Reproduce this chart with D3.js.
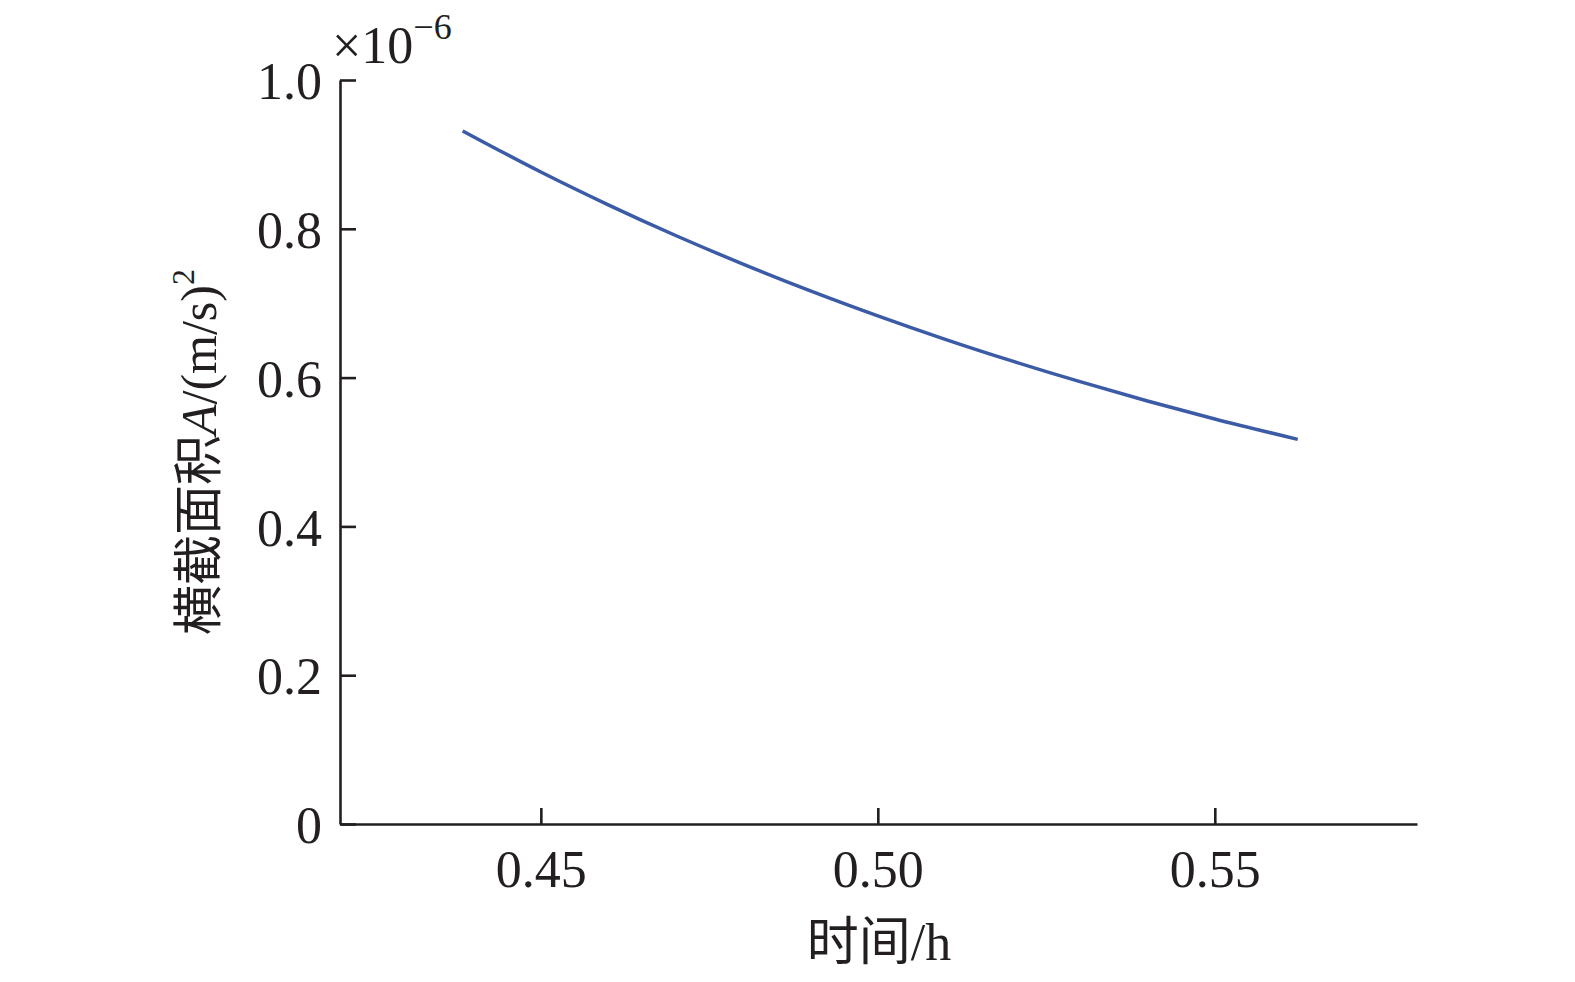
<!DOCTYPE html>
<html>
<head>
<meta charset="utf-8">
<script src="https://cdn.jsdelivr.net/npm/d3@7"></script>
<style>
  html, body { margin: 0; padding: 0; background: #fff; overflow: hidden; }
  svg { display: block; }
  svg text { font-family: "Liberation Serif", "Noto Sans CJK SC", serif; fill: #231f20; }
  .axis path, .axis line { stroke: #231f20; stroke-width: 2.6; }
</style>
</head>
<body>
<svg class="chart"></svg>
<script>
// time (h) and cross-section area (x1e-6)
var times = [0.4384, 0.45, 0.46, 0.47, 0.48, 0.49, 0.50, 0.51, 0.52, 0.53, 0.54, 0.55, 0.5623];
var areas = [0.9315, 0.8763, 0.8322, 0.7910, 0.7526, 0.7166, 0.6830, 0.6515, 0.6221, 0.5945, 0.5686, 0.5444, 0.5170];
var xTicks = [0.45, 0.50, 0.55];
var yTicks = [0, 0.2, 0.4, 0.6, 0.8, 1.0];

var margin = {top: 80, right: 158, bottom: 158, left: 340},
    width = 1575 - margin.left - margin.right,
    height = 982 - margin.top - margin.bottom;

var svg = d3.select(".chart")
    .attr("width", 1575)
    .attr("height", 982);

var chart = svg.append("g")
    .attr("transform", "translate(" + margin.left + "," + margin.top + ")");

var x = d3.scaleLinear().domain([0.4202, 0.58]).range([0, width]);
var y = d3.scaleLinear().domain([0, 1.0]).range([height, 0]);

var xAxis = d3.axisBottom(x).tickValues(xTicks).tickSizeInner(-16).tickSizeOuter(0)
    .tickPadding(26).tickFormat(d3.format(".2f"));
var yAxis = d3.axisLeft(y).tickValues(yTicks).tickSizeInner(-16).tickSizeOuter(0)
    .tickPadding(18).tickFormat(function(d) { return d === 0 ? "0" : d3.format(".1f")(d); });

chart.append("g")
    .attr("class", "x axis")
    .attr("transform", "translate(0," + height + ")")
    .call(xAxis)
  .selectAll("text")
    .style("font-size", "52px")
    .attr("dy", "0.71em");

chart.append("g")
    .attr("class", "y axis")
    .call(yAxis)
  .selectAll("text")
    .style("font-size", "52px")
    .attr("dy", "0.36em");

var line = d3.line()
    .x(function(d) { return x(d[0]); })
    .y(function(d) { return y(d[1]); })
    .curve(d3.curveMonotoneX);

chart.append("path")
    .datum(d3.zip(times, areas))
    .attr("fill", "none")
    .attr("stroke", "#3b5ba6")
    .attr("stroke-width", 3.5)
    .attr("d", line);

// exponent label
var expo = svg.append("text")
    .attr("x", 332)
    .attr("y", 63)
    .style("font-size", "52px");
expo.append("tspan").text("×10");
expo.append("tspan").attr("dy", -24).style("font-size", "36px").text("−6");

// x title
svg.append("text")
    .attr("x", 879)
    .attr("y", 960)
    .attr("text-anchor", "middle")
    .style("font-size", "52px")
    .text("时间/h");

// y title
var yt = svg.append("text")
    .attr("transform", "translate(216,452) rotate(-90)")
    .attr("text-anchor", "middle")
    .style("font-size", "50px");
yt.append("tspan").text("横截面积");
yt.append("tspan").style("font-style", "italic").text("A");
yt.append("tspan").text("/(m/s)");
yt.append("tspan").attr("dy", -22).style("font-size", "32px").text("2");
</script>
</body>
</html>
